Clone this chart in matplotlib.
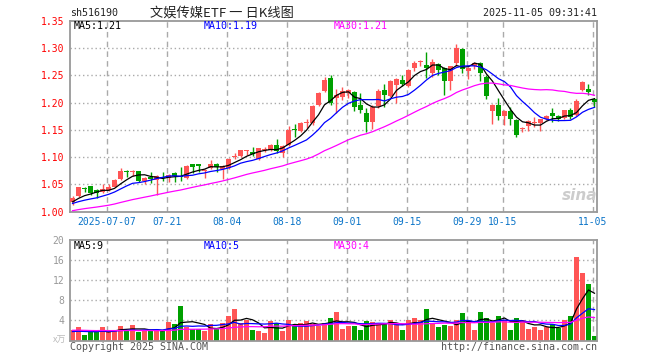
import numpy as np
import pandas as pd
import matplotlib
matplotlib.use('Agg')
import matplotlib.pyplot as plt

# 日K数据
opens = [1.017, 1.029, 1.043, 1.047, 1.040, 1.036, 1.040, 1.046, 1.060, 1.074,
         1.072, 1.074, 1.057, 1.064, 1.058, 1.064, 1.061, 1.071, 1.066, 1.061,
         1.087, 1.087, 1.074, 1.080, 1.087, 1.079, 1.081, 1.101, 1.102, 1.111,
         1.110, 1.096, 1.113, 1.113, 1.122, 1.107, 1.122, 1.152, 1.149, 1.162,
         1.162, 1.196, 1.222, 1.245, 1.208, 1.211, 1.218, 1.220, 1.196, 1.181,
         1.165, 1.194, 1.223, 1.212, 1.233, 1.242, 1.231, 1.263, 1.274, 1.270,
         1.255, 1.271, 1.263, 1.239, 1.272, 1.299, 1.259, 1.267, 1.272, 1.248,
         1.185, 1.196, 1.176, 1.185, 1.168, 1.151, 1.158, 1.162, 1.163, 1.170,
         1.182, 1.176, 1.172, 1.186, 1.178, 1.223, 1.226, 1.206]
highs = [1.028, 1.046, 1.046, 1.048, 1.042, 1.050, 1.050, 1.060, 1.080, 1.077,
         1.076, 1.075, 1.063, 1.073, 1.067, 1.073, 1.070, 1.072, 1.082, 1.085,
         1.088, 1.088, 1.079, 1.094, 1.090, 1.085, 1.098, 1.108, 1.114, 1.114,
         1.119, 1.117, 1.118, 1.124, 1.133, 1.123, 1.158, 1.161, 1.164, 1.171,
         1.196, 1.220, 1.248, 1.250, 1.225, 1.228, 1.226, 1.222, 1.218, 1.190,
         1.195, 1.225, 1.234, 1.242, 1.246, 1.250, 1.262, 1.277, 1.278, 1.294,
         1.280, 1.273, 1.266, 1.268, 1.308, 1.300, 1.266, 1.274, 1.275, 1.250,
         1.198, 1.208, 1.187, 1.192, 1.171, 1.156, 1.168, 1.173, 1.171, 1.177,
         1.190, 1.178, 1.187, 1.190, 1.206, 1.240, 1.234, 1.209]
lows = [1.013, 1.027, 1.036, 1.030, 1.026, 1.034, 1.038, 1.045, 1.058, 1.064,
        1.066, 1.055, 1.050, 1.053, 1.031, 1.056, 1.055, 1.055, 1.056, 1.060,
        1.071, 1.073, 1.062, 1.078, 1.073, 1.060, 1.078, 1.097, 1.100, 1.104,
        1.103, 1.094, 1.110, 1.111, 1.108, 1.101, 1.120, 1.138, 1.147, 1.153,
        1.160, 1.194, 1.220, 1.196, 1.181, 1.205, 1.208, 1.184, 1.181, 1.147,
        1.151, 1.190, 1.193, 1.210, 1.200, 1.230, 1.228, 1.258, 1.268, 1.245,
        1.248, 1.250, 1.214, 1.223, 1.268, 1.255, 1.243, 1.262, 1.239, 1.207,
        1.161, 1.168, 1.159, 1.159, 1.137, 1.146, 1.149, 1.156, 1.149, 1.168,
        1.165, 1.167, 1.170, 1.170, 1.176, 1.221, 1.214, 1.193]
closes = [1.025, 1.045, 1.041, 1.034, 1.035, 1.041, 1.045, 1.059, 1.075, 1.072,
          1.074, 1.057, 1.061, 1.060, 1.065, 1.062, 1.068, 1.066, 1.064, 1.084,
          1.082, 1.083, 1.077, 1.087, 1.082, 1.083, 1.096, 1.103, 1.113, 1.113,
          1.105, 1.116, 1.115, 1.122, 1.111, 1.121, 1.150, 1.150, 1.163, 1.164,
          1.194, 1.218, 1.242, 1.200, 1.214, 1.221, 1.223, 1.193, 1.187, 1.165,
          1.193, 1.222, 1.214, 1.240, 1.244, 1.234, 1.260, 1.272, 1.276, 1.263,
          1.275, 1.260, 1.239, 1.267, 1.300, 1.261, 1.264, 1.272, 1.254, 1.212,
          1.196, 1.176, 1.185, 1.170, 1.141, 1.153, 1.167, 1.164, 1.170, 1.176,
          1.176, 1.170, 1.186, 1.174, 1.204, 1.238, 1.220, 1.201]
# 成交量 (万)
volumes = [2.1, 2.6, 1.1, 1.6, 1.6, 2.6, 1.6, 2.1, 2.8, 2.0,
           3.0, 1.6, 2.1, 1.8, 2.1, 1.9, 3.6, 3.2, 6.9, 2.7,
           2.3, 2.3, 1.8, 3.2, 2.3, 3.4, 4.9, 6.3, 3.4, 4.0,
           2.0, 1.8, 1.4, 3.8, 3.5, 1.8, 4.1, 2.8, 3.4, 3.9,
           3.2, 2.8, 3.4, 4.5, 5.6, 2.3, 2.8, 2.8, 2.1, 3.8,
           3.6, 3.4, 3.2, 4.0, 3.3, 2.1, 4.0, 4.4, 4.1, 6.3,
           3.3, 2.6, 3.0, 2.8, 4.0, 5.4, 3.9, 2.0, 5.6, 4.4,
           3.5, 4.9, 4.0, 2.0, 4.5, 4.1, 2.3, 2.6, 2.1, 2.6,
           3.2, 2.5, 4.1, 4.9, 16.6, 13.4, 11.3, 0.8]
# 图左侧之前的29个交易日 (估计, 只用于均线)
pre_close = [0.985, 0.988, 0.990, 0.992, 0.991, 0.994, 0.992, 0.990, 0.993, 0.995,
             0.991, 0.994, 0.996, 0.993, 0.995, 0.998, 1.003, 1.006, 1.010, 1.008,
             1.012, 1.014, 1.011, 1.015, 1.009, 1.013, 1.016, 1.019, 1.017]
pre_volume = [2.3, 1.9, 2.6, 2.2, 1.8, 2.4, 2.0, 2.7, 1.9, 2.1,
              2.5, 1.7, 2.2, 2.4, 1.9, 2.0, 2.3, 1.8, 2.1, 2.6,
              1.9, 1.6, 2.0, 1.7, 1.5, 1.8, 1.9, 1.6, 1.7]

tick_dates = ['2025-07-07', '2025-07-21', '2025-08-04', '2025-08-18', '2025-09-01',
              '2025-09-15', '2025-09-29', '2025-10-15', '2025-11-05']
tick_labels = ['2025-07-07', '07-21', '08-04', '08-18', '09-01',
               '09-15', '09-29', '10-15', '11-05']

# 交易日 (国庆休市)
days = pd.bdate_range('2025-06-27', '2025-11-05')
days = days[(days < '2025-10-01') | (days > '2025-10-08')]
x = np.arange(len(days))
tick_pos = [days.get_loc(pd.Timestamp(d)) for d in tick_dates]

n_pre = len(pre_close)
c_all = pd.Series(pre_close + closes)
v_all = pd.Series(pre_volume + volumes)
ma = {k: c_all.rolling(k).mean().values[n_pre:] for k in (5, 10, 30)}
vma = {k: v_all.rolling(k, min_periods=1).mean().values[n_pre:] for k in (5, 10, 30)}

RED = '#ff5555'
GREEN = '#00a000'
GRID = '#aaaaaa'
BORDER = '#999999'
MONO = 'DejaVu Sans Mono'
ma_colors = {5: 'black', 10: '#0000ff', 30: '#ff00ff'}

o = np.array(opens); c = np.array(closes)
colors = [RED if cc >= oo else GREEN for oo, cc in zip(o, c)]

W, H = 660, 360
fig = plt.figure(figsize=(6.6, 3.6), dpi=100)
ax = fig.add_axes([70 / W, 1 - 211.7 / H, 527 / W, 190.7 / H])
axv = fig.add_axes([70 / W, 1 - 340.5 / H, 527 / W, 100.5 / H])

xl = (-0.42, 87.42)
for a in (ax, axv):
    a.set_xlim(*xl)
    for s in a.spines.values():
        s.set_color(BORDER)
        s.set_linewidth(1.3)
    for p in tick_pos:
        a.axvline(p - 0.25, color=GRID, lw=1, ls=(0, (4, 3)), zorder=0)
    a.tick_params(length=0)

# K线
body_lo = np.minimum(o, c)
body_h = np.maximum(np.abs(c - o), 0.0012)
ax.vlines(x, lows, highs, colors=colors, lw=1, zorder=2)
ax.bar(x, body_h, bottom=body_lo, width=0.8, color=colors, lw=0, zorder=3)
for k in (5, 10, 30):
    ax.plot(x, ma[k], color=ma_colors[k], lw=0.9, zorder=4)
ax.set_ylim(1.0, 1.35)
yt = [1.00, 1.05, 1.10, 1.15, 1.20, 1.25, 1.30, 1.35]
for v in yt[1:-1]:
    ax.axhline(v, color=GRID, lw=1, ls=(0, (1, 2)), zorder=0)
ax.set_yticks(yt)
ax.set_yticklabels(['%.2f' % v for v in yt], color='red', fontsize=7, family=MONO)
ax.set_xticks([p - 0.25 for p in tick_pos])
ax.set_xticklabels(tick_labels, color='#0a74c8', fontsize=7, family=MONO)
ax.tick_params(axis='x', pad=4)
ax.tick_params(axis='y', pad=4)

# 成交量
axv.bar(x, volumes, width=0.8, color=colors, lw=0, zorder=2)
for k in (5, 10, 30):
    axv.plot(x, vma[k], color=ma_colors[k], lw=0.9, zorder=3)
axv.set_ylim(0, 20)
for v in [4, 8, 12, 16]:
    axv.axhline(v, color=GRID, lw=1, ls=(0, (1, 2)), zorder=0)
axv.set_yticks([4, 8, 12, 16, 20])
axv.set_yticklabels(['4', '8', '12', '16', '20'], color='#999999', fontsize=7, family=MONO)
axv.tick_params(axis='y', pad=4)
axv.set_xticks([])

# 文字
def ftext(px, py, s, **kw):
    fig.text(px / W, 1 - py / H, s, va='center', **kw)

ftext(70, 13, 'sh516190', fontsize=7.2, family=MONO, color='#222222')
ftext(150, 13, '文娱传媒ETF 一 日K线图', fontsize=9.5,
      family=['Noto Sans CJK SC', 'DejaVu Sans'], color='#222222')
ftext(597, 13, '2025-11-05 09:31:41', fontsize=7.2, family=MONO, color='#222222', ha='right')
ftext(74, 26, 'MA5:1.21', fontsize=7.2, family=MONO, color='black')
ftext(204, 26, 'MA10:1.19', fontsize=7.2, family=MONO, color='#0000ff')
ftext(334, 26, 'MA30:1.21', fontsize=7.2, family=MONO, color='#ff00ff')
ftext(74, 246, 'MA5:9', fontsize=7.2, family=MONO, color='black')
ftext(204, 246, 'MA10:5', fontsize=7.2, family=MONO, color='#0000ff')
ftext(334, 246, 'MA30:4', fontsize=7.2, family=MONO, color='#ff00ff')
ftext(66, 340, 'x万', fontsize=6.5, family=['Noto Sans CJK SC', 'DejaVu Sans'],
      color='#bbbbbb', ha='right')
ftext(70, 347, 'Copyright 2025 SINA.COM', fontsize=7.2, family=MONO, color='#555555')
ftext(597, 347, 'http://finance.sina.com.cn', fontsize=7.2, family=MONO, color='#555555', ha='right')
ftext(580, 196, 'sina', fontsize=11, color='#cccccc', fontweight='bold',
      style='italic', ha='center', zorder=1)

fig.savefig('out.png', dpi=100)
